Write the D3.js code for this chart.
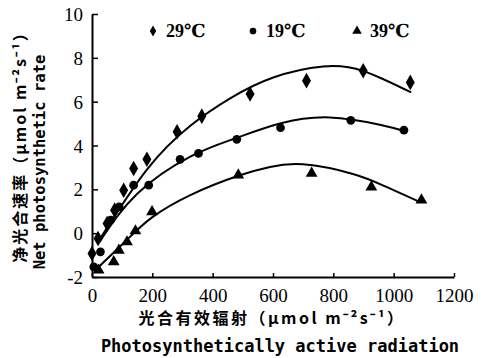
<!DOCTYPE html>
<html>
<head>
<meta charset="utf-8">
<script src="https://cdn.jsdelivr.net/npm/d3@7"></script>
<style>
  body { margin: 0; background: #fff; }
  svg { display: block; }
</style>
</head>
<body>
<div id="chart"></div>
<script>
// data
const series = ["29℃", "19℃", "39℃"];

const pts29 = [[0,-0.93],[20,-0.24],[50,0.44],[75,1.05],[105,1.96],[138,2.95],[182,3.37],[282,4.63],[364,5.34],[524,6.35],[711,6.96],[899,7.41],[1055,6.88]];
const pts19 = [[6,-1.54],[28,-0.85],[62,0.6],[90,1.2],[138,2.19],[188,2.19],[292,3.37],[353,3.64],[480,4.28],[625,4.81],[858,5.15],[1034,4.70]];
const pts39 = [[22,-1.69],[72,-1.31],[89,-0.78],[116,-0.4],[144,0.1],[199,0.97],[485,2.65],[728,2.73],[926,2.1],[1092,1.51]];

// fitted curves as drawn in the figure
const fit29 = [[20,-0.4],[182,2.9],[326,4.9],[458,6.15],[601,7.1],[766,7.6],[899,7.4],[1058,6.42]];
const fit19 = [[25,-0.4],[150,1.8],[326,3.49],[474,4.32],[623,5.0],[788,5.28],[954,4.95],[1036,4.66]];
const fit39 = [[22,-1.54],[116,-0.3],[199,0.72],[326,1.74],[485,2.62],[590,3.02],[700,3.14],[865,2.7],[976,2.11],[1086,1.43]];

const xTicks = [0,200,400,600,800,1000,1200];
const yTicks = [-2,0,2,4,6,8,10];

const W = 489, H = 358;
const svg = d3.select("#chart").append("svg")
  .attr("width", W).attr("height", H);

const x = d3.scaleLinear().domain([0,1200]).range([92,454]);
const y = d3.scaleLinear().domain([-2,10]).range([277,14]);

const serif = "'Liberation Serif', 'DejaVu Serif', serif";
const mono = "'DejaVu Sans Mono', 'Liberation Mono', monospace";
const cjk = "'Noto Sans CJK SC', sans-serif";

// Axes
const gx = svg.append("g")
  .attr("transform", "translate(0," + y(-2) + ")")
  .call(d3.axisBottom(x).tickValues(xTicks).tickSizeInner(-4).tickSizeOuter(0).tickPadding(8).tickFormat(d3.format("d")));
const gy = svg.append("g")
  .attr("transform", "translate(" + x(0) + ",0)")
  .call(d3.axisLeft(y).tickValues(yTicks).tickSizeInner(-6).tickSizeOuter(0).tickPadding(9).tickFormat(d => d < 0 ? "-" + Math.abs(d) : d));

[gx, gy].forEach(g => {
  g.select(".domain").attr("stroke", "#000").attr("stroke-width", 2);
  g.selectAll(".tick line").attr("stroke", "#000").attr("stroke-width", 1.5);
  g.selectAll(".tick text").attr("fill", "#000")
    .style("font-family", serif).style("font-size", "19px");
});
gx.selectAll(".tick text").attr("dy", "0.9em");
gy.selectAll(".tick text").attr("dy", "0.35em");

// Fitted lines
const line = d3.line()
  .x(d => x(d[0]))
  .y(d => y(d[1]))
  .curve(d3.curveNatural);

[fit29, fit19, fit39].forEach(f => {
  svg.append("path")
    .datum(f)
    .attr("fill", "none")
    .attr("stroke", "#000")
    .attr("stroke-width", 2)
    .attr("d", line);
});

// Points
const sym = {
  "29℃": d3.symbol().type(d3.symbolDiamond).size(70),
  "19℃": d3.symbol().type(d3.symbolCircle).size(60),
  "39℃": d3.symbol().type(d3.symbolTriangle).size(60)
};
const ptsBy = { "29℃": pts29, "19℃": pts19, "39℃": pts39 };

series.forEach(s => {
  svg.append("g").selectAll("path")
    .data(ptsBy[s])
    .join("path")
    .attr("transform", d => "translate(" + x(d[0]) + "," + y(d[1]) + ")")
    .attr("d", sym[s])
    .attr("fill", "#000");
});

// Legend
const legX = [153, 253, 357];
const legend = svg.append("g");
series.forEach((s, i) => {
  const small = d3.symbol().type(sym[s].type()).size(s === "39℃" ? 40 : 35);
  legend.append("path")
    .attr("transform", "translate(" + legX[i] + ",31)")
    .attr("d", small)
    .attr("fill", "#000");
  legend.append("text")
    .attr("x", legX[i] + 13)
    .attr("y", 37)
    .style("font-family", serif)
    .style("font-size", "18px")
    .style("font-weight", "bold")
    .text(s);
});

// Axis titles
svg.append("text")
  .attr("x", 272).attr("y", 324)
  .attr("text-anchor", "middle")
  .style("font-family", cjk).style("font-size", "16px").style("font-weight", "bold")
  .style("letter-spacing", "2.5px")
  .text("光合有效辐射（μmol m⁻²s⁻¹）");
svg.append("text")
  .attr("x", 280).attr("y", 352)
  .attr("text-anchor", "middle")
  .style("font-family", mono).style("font-size", "17px").style("font-weight", "bold")
  .text("Photosynthetically active radiation");

svg.append("text")
  .attr("transform", "translate(26,143) rotate(-90)")
  .attr("text-anchor", "middle")
  .style("font-family", cjk).style("font-size", "16px").style("font-weight", "bold")
  .style("letter-spacing", "2px")
  .text("净光合速率（μmol m⁻²s⁻¹）");
svg.append("text")
  .attr("transform", "translate(45,162) rotate(-90)")
  .attr("text-anchor", "middle")
  .style("font-family", mono).style("font-size", "15.5px").style("font-weight", "bold")
  .text("Net photosynthetic rate");
</script>
</body>
</html>
